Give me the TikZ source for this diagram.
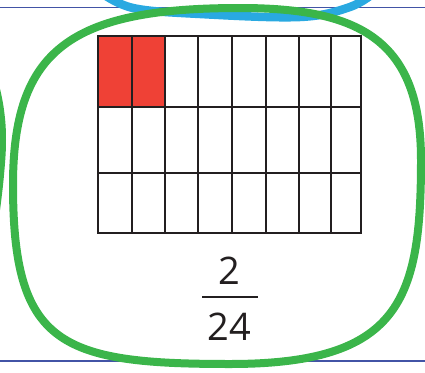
\documentclass[tikz,border=0pt]{standalone}
\usepackage{fontspec}
\setmainfont{Open Sans}
\definecolor{gridc}{HTML}{231F20}
\definecolor{redc}{HTML}{EF4136}
\definecolor{greenc}{HTML}{3BB54A}
\definecolor{cyanc}{HTML}{29A9E1}
\definecolor{navyc}{HTML}{4254A6}
\begin{document}
\begin{tikzpicture}[x=1pt,y=-1pt,
  gridline/.style={draw=gridc,line width=2pt},
  digit/.style={font=\fontsize{38}{40}\selectfont,text=gridc,inner sep=0pt}]
\useasboundingbox (0,0) rectangle (425,372);
\clip (0,0) rectangle (425,372);
% rule lines
\draw[navyc,line width=1.8pt] (0,7.5) -- (425,7.5);
\draw[navyc,line width=1.8pt] (0,361) -- (425,361);
% cyan loop
\draw[cyanc,line width=8.5pt,line cap=round] plot[smooth,tension=0.6] coordinates {(100,-8) (133,8) (200,14) (300,17) (350,7) (375,-8)};
% left partial green loop
\draw[greenc,line width=6pt] plot[smooth,tension=0.7] coordinates {(-4,85) (1,110) (3,140) (1,175) (-3,210)};
% grid
\fill[redc] (98,36) rectangle (165,107);
\foreach \x in {98,131.5,165,198,231.5,266,299,331,361}
  \draw[gridline] (\x,36) -- (\x,233);
\foreach \y in {36,107,173,233}
  \draw[gridline] (98,\y) -- (361,\y);
\draw[gridline,line cap=rect] (98,36) rectangle (361,233);
% fraction
\node[digit] (num) at (229,271) {2};
\node[digit] (den) at (229,327) {24};
\coordinate (barL) at (202,297);
\coordinate (barR) at (258,297);
\draw[gridc,line width=2.6pt] (barL) -- (barR);
% green loop
\draw[greenc,line width=8pt] (240,8) .. controls (360,8) and (421,40) .. (421,160)
  .. controls (421,300) and (400,364) .. (230,364)
  .. controls (60,364) and (13,345) .. (13,185)
  .. controls (13,50) and (70,8) .. cycle;
\end{tikzpicture}
\end{document}
